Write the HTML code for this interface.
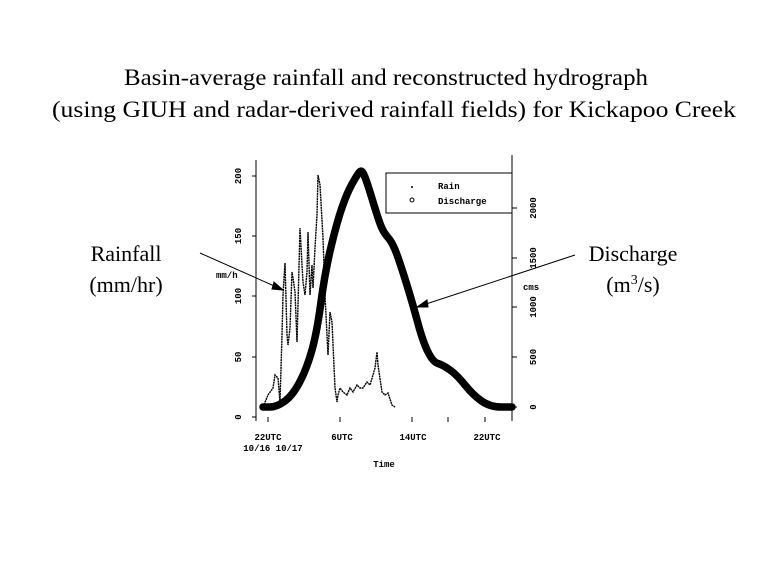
<!DOCTYPE html>
<html><head><meta charset="utf-8"><style>
html,body{margin:0;padding:0;background:#fff;}
svg{display:block;}
</style></head><body>
<svg width="768" height="576" viewBox="0 0 768 576" xmlns="http://www.w3.org/2000/svg">
<rect width="768" height="576" fill="#fff"/>
<g font-family="Liberation Serif, serif" fill="#000">
<text x="386" y="85" font-size="23" text-anchor="middle" textLength="524" lengthAdjust="spacingAndGlyphs">Basin-average rainfall and reconstructed hydrograph</text>
<text x="394" y="117" font-size="23" text-anchor="middle" textLength="684" lengthAdjust="spacingAndGlyphs">(using GIUH and radar-derived rainfall fields) for Kickapoo Creek</text>
<text x="126" y="261" font-size="22" text-anchor="middle">Rainfall</text>
<text x="126" y="292" font-size="22" text-anchor="middle">(mm/hr)</text>
<text x="633" y="261" font-size="22" text-anchor="middle">Discharge</text>
<text x="633" y="292" font-size="22" text-anchor="middle">(m<tspan font-size="14" dy="-8">3</tspan><tspan dy="8">/s)</tspan></text>
</g>
<g stroke="#000" fill="none" stroke-width="1">
<line x1="256" y1="160" x2="256" y2="421"/>
<line x1="512" y1="155" x2="512" y2="421"/>
<line x1="252" y1="176" x2="256" y2="176"/>
<line x1="252" y1="236" x2="256" y2="236"/>
<line x1="252" y1="296" x2="256" y2="296"/>
<line x1="252" y1="357" x2="256" y2="357"/>
<line x1="252" y1="417" x2="256" y2="417"/>
<line x1="512" y1="208" x2="517" y2="208"/>
<line x1="512" y1="258" x2="517" y2="258"/>
<line x1="512" y1="307" x2="517" y2="307"/>
<line x1="512" y1="357" x2="517" y2="357"/>
<line x1="512" y1="407" x2="517" y2="407"/>
<line x1="268" y1="417" x2="268" y2="422"/>
<line x1="340" y1="417" x2="340" y2="422"/>
<line x1="412" y1="417" x2="412" y2="422"/>
<line x1="448" y1="417" x2="448" y2="422"/>
<line x1="485" y1="417" x2="485" y2="422"/>
<rect x="386" y="173" width="126" height="40"/>
</g>
<g font-family="Liberation Mono, monospace" font-size="9" font-weight="bold" fill="#000">
<text transform="translate(241,176) rotate(-90)" text-anchor="middle">200</text>
<text transform="translate(241,236) rotate(-90)" text-anchor="middle">150</text>
<text transform="translate(241,296) rotate(-90)" text-anchor="middle">100</text>
<text transform="translate(241,357) rotate(-90)" text-anchor="middle">50</text>
<text transform="translate(241,417) rotate(-90)" text-anchor="middle">0</text>
<text x="216" y="278">mm/h</text>
<text transform="translate(536,208) rotate(-90)" text-anchor="middle">2000</text>
<text transform="translate(536,258) rotate(-90)" text-anchor="middle">1500</text>
<text transform="translate(536,307) rotate(-90)" text-anchor="middle">1000</text>
<text transform="translate(536,357) rotate(-90)" text-anchor="middle">500</text>
<text transform="translate(536,407) rotate(-90)" text-anchor="middle">0</text>
<text x="523" y="290">cms</text>
<text x="268" y="440" text-anchor="middle">22UTC</text>
<text x="273" y="451" text-anchor="middle">10/16 10/17</text>
<text x="342" y="440" text-anchor="middle">6UTC</text>
<text x="413" y="440" text-anchor="middle">14UTC</text>
<text x="487" y="440" text-anchor="middle">22UTC</text>
<text x="384" y="467" text-anchor="middle">Time</text>
<text x="438" y="189">Rain</text>
<text x="438" y="204">Discharge</text>
</g>
<circle cx="412" cy="187" r="1" fill="#000"/>
<circle cx="412" cy="200" r="2" fill="none" stroke="#000"/>
<path d="M263,407 L270,407 Q277,407 285,401 Q293,395 300,381.5 Q307,368 312,350 Q317,332 321,302 Q325,272 331,247 Q337,222 342,207.5 Q347,193 352,184 Q357,175 359.5,172 Q362,169 364.5,176 Q367,182 372,198.5 Q377,215 380,223.5 Q383,232 388,237.5 Q393,243 398,257.5 Q403,272 408,288.5 Q413,305 418,323.5 Q423,342 428,352 Q433,362 438,363.5 Q443,365 450,370 Q457,375 465,385 Q473,395 481.5,401 Q490,407 501,407 L512,407" fill="none" stroke="#000" stroke-width="7.5" stroke-linejoin="round" stroke-linecap="round"/>
<path d="M263,407 L268,395 L273,388 L275,375 L278,378 L280,402 L282,335 L283,295 L285,263 L287,335 L288,345 L290,328 L292,272 L293,278 L295,292 L297,342 L298,305 L300,228 L302,265 L303,282 L305,295 L307,272 L308,232 L310,295 L312,265 L313,288 L315,248 L317,215 L318,175 L320,185 L323,238 L325,295 L328,355 L330,312 L332,322 L335,388 L337,402 L338,395 L340,388 L343,392 L347,395 L350,388 L353,392 L357,385 L360,388 L363,388 L367,382 L370,385 L373,375 L375,368 L377,352 L378,365 L382,392 L385,395 L388,393 L392,405 L395,407" fill="none" stroke="#000" stroke-width="1.4" stroke-dasharray="2 0.6"/>
<g stroke="#000" stroke-width="1" fill="#000">
<line x1="200" y1="253" x2="281" y2="289"/>
<path d="M283,290 L274,282 L272,289 Z"/>
<line x1="575" y1="255" x2="420" y2="306"/>
<path d="M417,307 L427,300 L428,307 Z"/>
</g>
</svg>
</body></html>
